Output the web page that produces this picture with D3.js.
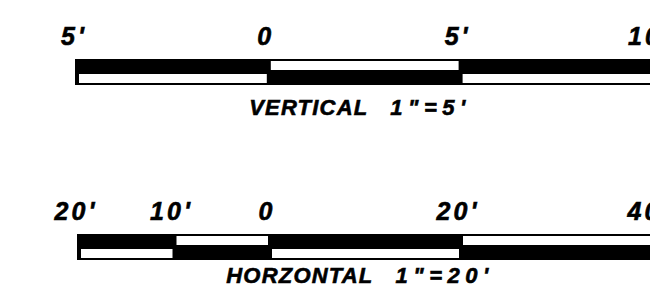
<!DOCTYPE html>
<html>
<head>
<meta charset="utf-8">
<script src="https://cdn.jsdelivr.net/npm/d3@7"></script>
<style>
    html, body { margin: 0; padding: 0; background: #fff; }
    svg { display: block; }
    .lbl, .ttl { font-family: "Liberation Sans", Arial, sans-serif; font-weight: bold; font-style: italic; fill: #000; stroke: #000; stroke-width: 0.6px; }
</style>
</head>
<body>
<div id="chart"></div>
<script>
// vertical scale bar, feet
var vTicks = [-5, 0, 5, 10];
var vLabels = ["5'", "0", "5'", "10'"];
var vTopFill = ["black", "white", "black"];
var vTitle = ["VERTICAL", "1\"=5'"];

// horizontal scale bar, feet
var hTicks = [-20, -10, 0, 20, 40];
var hLabels = ["20'", "10'", "0", "20'", "40'"];
var hTopFill = ["black", "white", "black", "white"];
var hTitle = ["HORZONTAL", "1\"=20'"];

(function () {
    var options = {
        width: 650,
        height: 301,
        barHeight: 26,
        border: 2
    };

    var svg = d3.select('#chart')
        .append('svg')
        .attr('width', options.width)
        .attr('height', options.height);

    var drawScaleBar = function (ticks, labels, topFill, title, x, top, labelY, titleY) {
        var g = svg.append('g');
        var b = options.border;
        var half = options.barHeight / 2;
        var lo = ticks[0], hi = ticks[ticks.length - 1];

        g.append('rect')
            .attr('x', x(lo) - b)
            .attr('y', top)
            .attr('width', x(hi) - x(lo) + 2 * b)
            .attr('height', options.barHeight)
            .attr('fill', '#000');

        var segs = d3.pairs(ticks).map(function (p, i) {
            return { a: p[0], b: p[1], top: topFill[i] };
        });

        // each row: white pieces inset inside the black frame
        [0, 1].forEach(function (row) {
            g.selectAll('.row' + row)
                .data(segs.filter(function (s) {
                    return row === 0 ? s.top === 'white' : s.top !== 'white';
                }))
                .enter()
                .append('rect')
                .attr('x', function (s) { return x(s.a) + b; })
                .attr('y', top + row * half + b)
                .attr('width', function (s) { return x(s.b) - x(s.a) - 2 * b; })
                .attr('height', half - 2 * b)
                .attr('fill', '#fff');
        });

        g.selectAll('.lbl')
            .data(ticks)
            .enter()
            .append('text')
            .classed('lbl', true)
            .attr('x', function (t) { return x(t) - 3; })
            .attr('y', labelY)
            .attr('text-anchor', 'middle')
            .attr('font-size', 25)
            .attr('letter-spacing', 3)
            .text(function (t, i) { return labels[i]; });

        var tt = g.append('text')
            .classed('ttl', true)
            .attr('x', 360)
            .attr('y', titleY)
            .attr('text-anchor', 'middle')
            .attr('font-size', 22);
        tt.append('tspan')
            .attr('letter-spacing', 1.2)
            .text(title[0]);
        tt.append('tspan')
            .attr('dx', 22)
            .attr('letter-spacing', 5.5)
            .text(title[1]);
    };

    var xv = d3.scaleLinear().domain([vTicks[0], vTicks[vTicks.length - 1]]).range([77, 652.4]);
    var xh = d3.scaleLinear().domain([hTicks[0], hTicks[hTicks.length - 1]]).range([79, 652]);

    drawScaleBar(vTicks, vLabels, vTopFill, vTitle, xv, 59, 45, 115);
    drawScaleBar(hTicks, hLabels, hTopFill, hTitle, xh, 234, 220, 283);
})();
</script>
</body>
</html>
